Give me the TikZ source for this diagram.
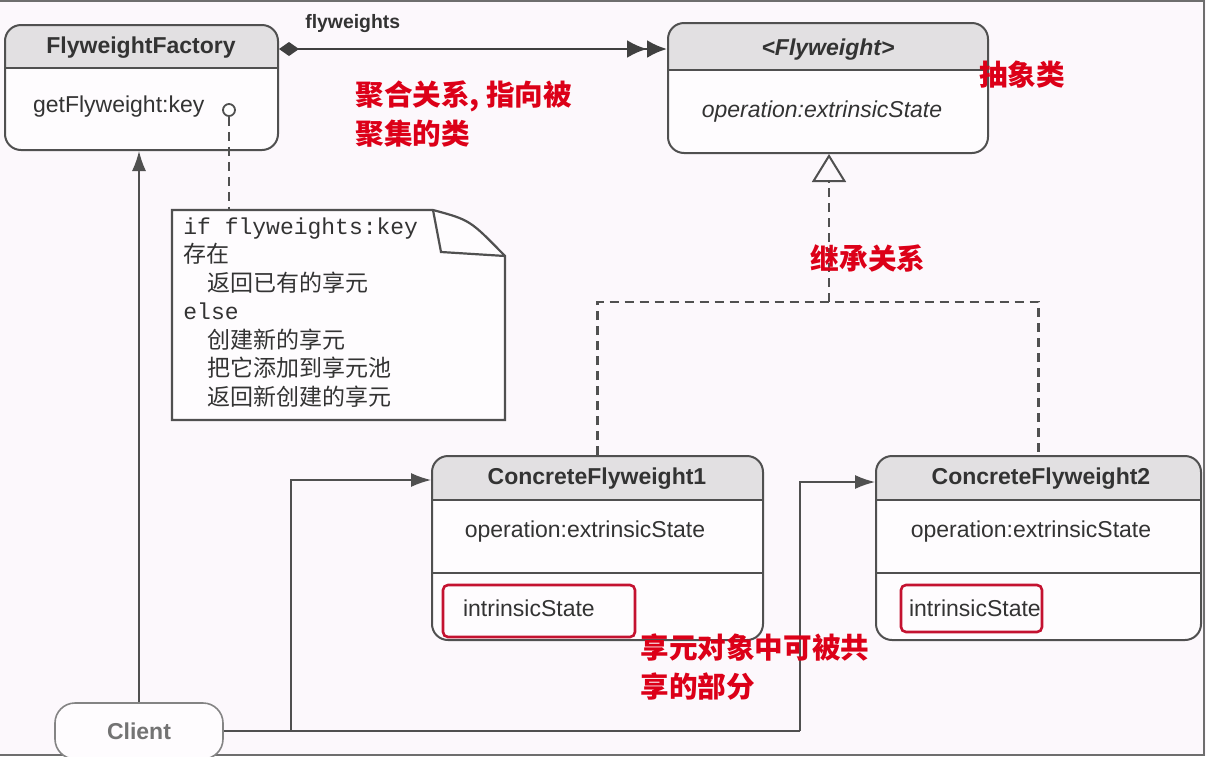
\documentclass[tikz,border=0pt]{standalone}
\usepackage{fontspec}
\setsansfont{Liberation Sans}
\newfontfamily\notemono{Liberation Mono}
\newfontfamily\cjk{Noto Sans CJK SC}
\usepackage{xcolor}
\usepackage{tikz}
\usetikzlibrary{fit, positioning, arrows.meta}

\definecolor{bgpink}{HTML}{FCF8FC}
\definecolor{framegray}{HTML}{6E6E6E}
\definecolor{boxgray}{HTML}{505050}
\definecolor{headgray}{HTML}{E2E0E2}
\definecolor{textgray}{HTML}{333333}
\definecolor{notered}{HTML}{DC0018}
\definecolor{markred}{HTML}{C41230}

\tikzset{
  umlbox/.style={draw=boxgray, line width=1pt, rounded corners=8pt, inner sep=0pt},
  title/.style={font=\sffamily\bfseries\fontsize{11.5}{13}\selectfont, text=textgray},
  member/.style={font=\sffamily\fontsize{11.5}{13}\selectfont, text=textgray},
  remark/.style={font=\cjk\bfseries\fontsize{14.3}{19.5}\selectfont, text=notered, align=left, inner sep=0pt},
  conn/.style={draw=boxgray, line width=0.7pt},
  dashline/.style={draw=boxgray, line width=1.2pt, dash pattern=on 4.5pt off 3pt},
  markbox/.style={draw=markred, line width=1.3pt, rounded corners=2.5pt}
}

\begin{document}
\begin{tikzpicture}[x=0.5pt, y=-0.5pt]
\clip (0,0) rectangle (1206,756);
\fill[bgpink] (0,0) rectangle (1206,756);
\draw[framegray, line width=1.2pt] (0,1) -- (1204,1) -- (1204,755) -- (0,755);

% class boxes
\foreach \nm/\xa/\ya/\xb/\yb/\ys in {factory/5/25/278/150/68, flyweight/668/23/988/153/70,
    cfone/432/456/763/640/500, cftwo/876/456/1201/640/500} {
  \begin{scope}
    \clip[rounded corners=8pt] (\xa,\ya) rectangle (\xb,\yb);
    \fill[headgray] (\xa,\ya) rectangle (\xb,\ys);
    \fill[white!60!bgpink] (\xa,\ys) rectangle (\xb,\yb);
  \end{scope}
  \node[umlbox, fit={(\xa,\ya) (\xb,\yb)}] (\nm) {};
  \draw[boxgray, line width=1pt] (\xa,\ys) -- (\xb,\ys);
}
\draw[boxgray, line width=1pt] (432,573) -- (763,573);
\draw[boxgray, line width=1pt] (876,573) -- (1201,573);

\node[title] (factoryname) at (141,48) {FlyweightFactory};
\node[member, anchor=west] (getfly) at (26,107) {getFlyweight:key};
\node[circle, draw=boxgray, line width=0.9pt, minimum size=6pt, inner sep=0pt, fill=white] (lolly) at (229,110) {};

\node[title, font=\sffamily\bfseries\itshape\fontsize{11.5}{13}\selectfont] (flyname) at (828,50) {<Flyweight>};
\node[member, font=\sffamily\itshape\fontsize{11.5}{13}\selectfont] (flyop) at (822,112) {operation:extrinsicState};

\node[title] (cfonename) at (597,479) {ConcreteFlyweight1};
\node[member] (cfoneop) at (585,532) {operation:extrinsicState};
\node[markbox, minimum width=96pt, minimum height=26pt] (cfonemark) at (539,611) {};
\node[member, anchor=west] (cfoneint) at (456,608) {intrinsicState};

\node[title] (cftwoname) at (1041,479) {ConcreteFlyweight2};
\node[member] (cftwoop) at (1031,532) {operation:extrinsicState};
\node[markbox, minimum width=70.5pt, minimum height=23.5pt] (cftwomark) at (971.5,608.5) {};
\node[member, anchor=west] (cftwoint) at (902,608) {intrinsicState};

% client
\node[draw=boxgray!70, line width=0.8pt, rounded corners=10pt, minimum width=84pt, minimum height=28pt,
  fill=white!60!bgpink, font=\sffamily\bfseries\fontsize{11.5}{13}\selectfont, text=boxgray!80] (client) at (139,731) {Client};

% note
\draw[boxgray, line width=1.1pt, fill=white!60!bgpink] (172,210) -- (433,210) .. controls (470,220) .. (505,256) -- (505,420) -- (172,420) -- cycle;
\draw[boxgray, line width=1.1pt] (433,210) -- (441,252) -- (505,256);
\node[fit={(172,210) (505,420)}, inner sep=0pt] (note) {};
\node[anchor=north west, align=left, inner sep=0pt, text=textgray, font=\fontsize{11.5}{14.25}\selectfont] (notetext) at (183,217) {%
  {\notemono if flyweights:key}\\
  {\cjk 存在}\\
  \hspace*{12pt}{\cjk 返回已有的享元}\\
  {\notemono else}\\
  \hspace*{12pt}{\cjk 创建新的享元}\\
  \hspace*{12pt}{\cjk 把它添加到享元池}\\
  \hspace*{12pt}{\cjk 返回新创建的享元}};

% connectors
\draw[boxgray!80!black, line width=1.3pt, {Diamond[length=10pt, width=7pt]}-{Latex[length=10pt, width=9pt] Latex[length=10pt, width=9pt]}]
  ([yshift=-12.5pt]factory.north east) -- ([yshift=-12.5pt]factory.north east -| flyweight.west)
  node[pos=0.19, above=4pt, font=\sffamily\bfseries\fontsize{9.7}{11}\selectfont, text=textgray] (flylabel) {flyweights};

\draw[dashline] (lolly) -- (lolly |- note.north);

\coordinate (inh) at (829,302);
\draw[dashline, -{Triangle[open, length=14pt, width=17pt, line width=1pt]}] (inh) -- (inh |- flyweight.south);
\draw[dashline] (cfone.north) |- (inh) -| (cftwo.north);

\coordinate (jone) at (291,731);
\coordinate (jtwo) at (800,731);
\draw[conn, -{Latex[length=10pt, width=7pt]}] (client.north) -- (client.north |- factory.south);
\draw[conn] (client.east) -- (jtwo);
\draw[conn, -{Latex[length=10pt, width=7pt]}] (jone) |- ([yshift=-12.5pt]cfone.north west);
\draw[conn, -{Latex[length=10pt, width=7pt]}] (jtwo) |- ([yshift=-13.5pt]cftwo.north west);

% red remarks
\node[remark, anchor=north west] (aggrnote) at (355,80) {聚合关系, 指向被\\聚集的类};
\node[remark] (absnote) at (1022,75) {抽象类};
\node[remark] (inhnote) at (868,258) {继承关系};
\node[remark, anchor=north west] (sharenote) at (640,633) {享元对象中可被共\\享的部分};
\end{tikzpicture}
\end{document}
